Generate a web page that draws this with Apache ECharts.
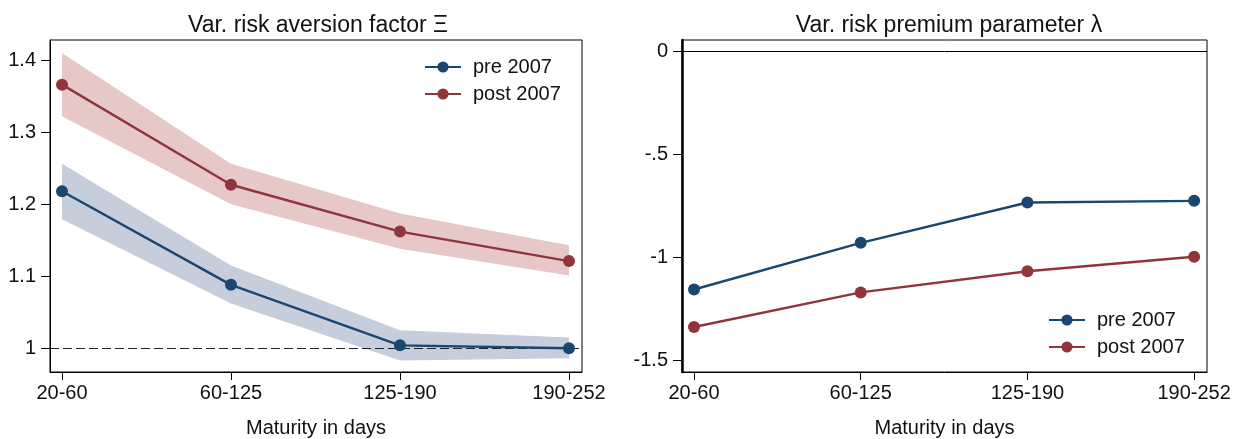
<!DOCTYPE html>
<html>
<head>
<meta charset="utf-8">
<script src="https://cdn.jsdelivr.net/npm/echarts@6/dist/echarts.min.js"></script>
<style>html,body{margin:0;padding:0;background:#fff;}#c{width:1234px;height:439px;}</style>
</head>
<body>
<div id="c"></div>
<script>
const categories = ['20-60', '60-125', '125-190', '190-252'];
const xiPre = [1.218, 1.088, 1.004, 1.000];
const xiPreLo = [1.179, 1.062, 0.983, 0.986];
const xiPreHi = [1.256, 1.115, 1.025, 1.015];
const xiPost = [1.366, 1.227, 1.162, 1.121];
const xiPostLo = [1.322, 1.200, 1.138, 1.101];
const xiPostHi = [1.410, 1.256, 1.187, 1.143];
const lamPre = [-1.156, -0.929, -0.733, -0.725];
const lamPost = [-1.338, -1.170, -1.067, -0.997];
const xiTicks = [1, 1.1, 1.2, 1.3, 1.4];
const lamTicks = [-1.5, -1, -0.5, 0];

const BLUE = '#1a476f', RED = '#90353b';
const BLUE_BAND = '#c6cddb', RED_BAND = '#e6c9c7';
const FONT = 'Liberation Sans, Arial, sans-serif';
const catIdx = categories.map((c, i) => i);

function pts(arr) { return arr.map((v, i) => [catIdx[i], v]); }

function bandSeries(lo, hi, color, xi, yi) {
  return {
    type: 'custom', xAxisIndex: xi, yAxisIndex: yi, silent: true, z: 1,
    data: lo.map((v, i) => [catIdx[i], v, hi[i]]),
    renderItem: function (params, api) {
      if (params.dataIndex !== 0) return null;
      const poly = [];
      for (let i = 0; i < hi.length; i++) poly.push(api.coord([catIdx[i], hi[i]]));
      for (let i = lo.length - 1; i >= 0; i--) poly.push(api.coord([catIdx[i], lo[i]]));
      return { type: 'polygon', shape: { points: poly }, style: { fill: color, stroke: null } };
    }
  };
}

function lineSeries(name, arr, color, xi, yi, extra) {
  return Object.assign({
    name: name, type: 'line', xAxisIndex: xi, yAxisIndex: yi, z: 3,
    data: pts(arr), symbol: 'circle', symbolSize: 12,
    lineStyle: { color: color, width: 2.4 }, itemStyle: { color: color },
    animation: false
  }, extra || {});
}

function xAxisDef(gi, min, max) {
  return {
    type: 'value', gridIndex: gi, min: min, max: max,
    name: 'Maturity in days', nameLocation: 'middle', nameGap: 46,
    nameTextStyle: { fontFamily: FONT, fontSize: 20, color: '#111' },
    splitLine: { show: false },
    axisLine: { onZero: false, lineStyle: { color: '#000', width: 1 } },
    axisTick: { customValues: catIdx, length: 8, lineStyle: { color: '#000', width: 1 } },
    axisLabel: { customValues: catIdx, margin: 11, fontFamily: FONT, fontSize: 20, color: '#111',
      formatter: v => categories[Math.round(v)] }
  };
}

function yAxisDef(gi, min, max, ticks, fmt, lw) {
  return {
    type: 'value', gridIndex: gi, min: min, max: max,
    splitLine: { show: false },
    axisLine: { show: true, onZero: false, lineStyle: { color: '#000', width: lw } },
    axisTick: { show: true, customValues: ticks, length: 9, lineStyle: { color: '#000', width: 1 } },
    axisLabel: { customValues: ticks, margin: 14, fontFamily: FONT, fontSize: 20, color: '#111', formatter: fmt }
  };
}

const legendCommon = {
  orient: 'vertical', itemWidth: 36, itemHeight: 14, itemGap: 7, padding: 0,
  textStyle: { fontFamily: FONT, fontSize: 20, color: '#111', padding: [0, 0, 0, 7] },
  data: ['pre 2007', 'post 2007'], selectedMode: false
};

const gridCommon = { top: 40, height: 332, show: true, borderColor: '#000', borderWidth: 1,
  backgroundColor: 'transparent', containLabel: false, outerBoundsMode: 'none' };

const chart = echarts.init(document.getElementById('c'), null, { renderer: 'canvas' });
chart.setOption({
  animation: false,
  backgroundColor: '#fff',
  title: [
    { text: 'Var. risk aversion factor Ξ', left: 313, top: 9, textAlign: 'center',
      textStyle: { fontFamily: FONT, fontSize: 23, fontWeight: 'normal', color: '#111' } },
    { text: 'Var. risk premium parameter λ', left: 944, top: 9, textAlign: 'center',
      textStyle: { fontFamily: FONT, fontSize: 23, fontWeight: 'normal', color: '#111' } }
  ],
  grid: [
    Object.assign({}, gridCommon, { left: 50, width: 532 }),
    Object.assign({}, gridCommon, { left: 682, width: 525 })
  ],
  legend: [
    Object.assign({}, legendCommon, { left: 424, top: 57 }),
    Object.assign({}, legendCommon, { left: 1048, top: 310 })
  ],
  xAxis: [xAxisDef(0, -0.071, 3.077), xAxisDef(1, -0.072, 3.077)],
  yAxis: [
    yAxisDef(0, 0.967, 1.428, xiTicks, v => String(+(+v).toFixed(1)), 1),
    yAxisDef(1, -1.557, 0.057, lamTicks, v => String(+(+v).toFixed(1)).replace(/^(-?)0\./, '$1.'), 2.5)
  ],
  series: [
    bandSeries(xiPostLo, xiPostHi, RED_BAND, 0, 0),
    bandSeries(xiPreLo, xiPreHi, BLUE_BAND, 0, 0),
    lineSeries('pre 2007', xiPre, BLUE, 0, 0, {
      markLine: { silent: true, symbol: 'none', label: { show: false }, z: 2,
        lineStyle: { color: '#222', type: [9, 4], width: 1.2 }, data: [{ yAxis: 1 }] }
    }),
    lineSeries('post 2007', xiPost, RED, 0, 0),
    lineSeries('pre 2007', lamPre, BLUE, 1, 1, {
      markLine: { silent: true, symbol: 'none', label: { show: false },
        lineStyle: { color: '#000', type: 'solid', width: 1 }, data: [{ yAxis: 0 }] }
    }),
    lineSeries('post 2007', lamPost, RED, 1, 1)
  ]
});
</script>
</body>
</html>
